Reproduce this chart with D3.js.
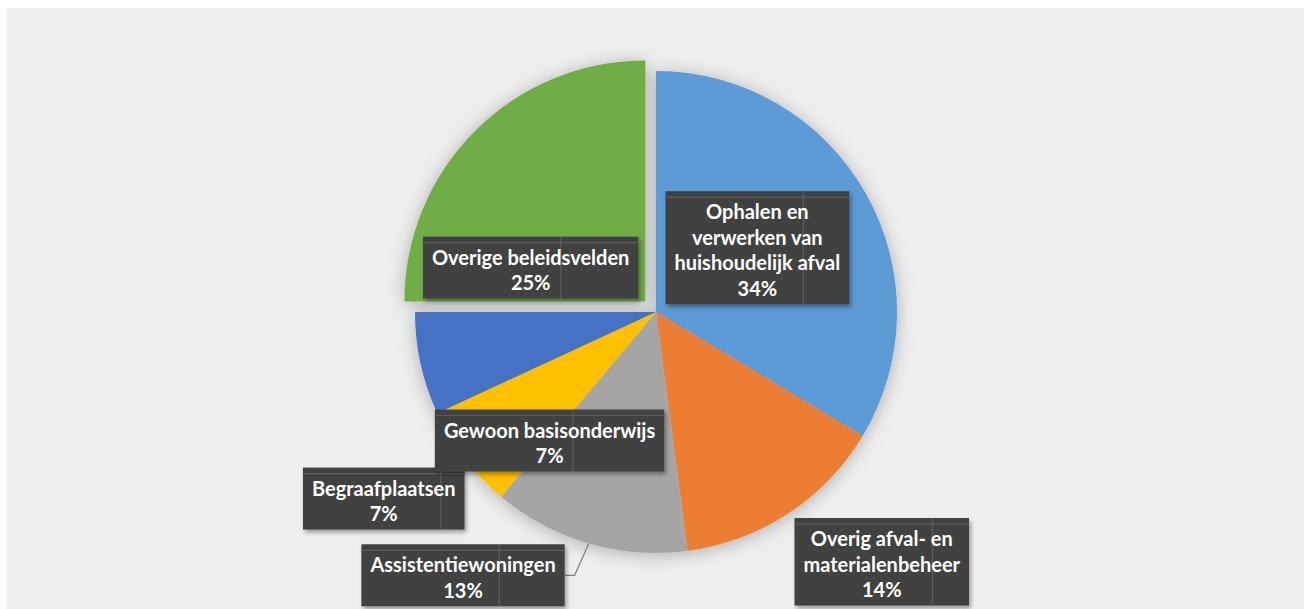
<!DOCTYPE html>
<html lang="nl">
<head>
<meta charset="UTF-8">
<title>Verdeling</title>
<script src="https://d3js.org/d3.v7.min.js"></script>
<style>
  body { margin: 0; background: #fff; }
  svg { display: block; }
  text { font-family: Lato, "Open Sans", sans-serif; font-weight: bold; }
</style>
</head>
<body>
<script>
    // data
    var categories = [
        "Ophalen en verwerken van huishoudelijk afval",
        "Overig afval- en materialenbeheer",
        "Assistentiewoningen",
        "Begraafplaatsen",
        "Gewoon basisonderwijs",
        "Overige beleidsvelden"
    ];
    var values = [33.6, 14.3, 13.2, 7.0, 6.9, 25.0];
    var labelLines = [
        ["Ophalen en", "verwerken van", "huishoudelijk afval"],
        ["Overig afval- en", "materialenbeheer"],
        ["Assistentiewoningen"],
        ["Begraafplaatsen"],
        ["Gewoon basisonderwijs"],
        ["Overige beleidsvelden"]
    ];
    var colors = ["#5b9bd5", "#ed7d31", "#a5a5a5", "#ffc000", "#4472c4", "#70ad47"];
    var exploded = [0, 0, 0, 0, 0, 15];
    // label nudges from the label centroid
    var labelNudge = [[-14, 1], [153, 139], [-156, 136], [-167, 106], [23, 100], [-21, 60]];
    var leader = [false, false, true, false, false, false];

    var W = 1304, H = 609;
    var cx = 656, cy = 312, R = 241;

    var svg = d3.select("body").append("svg")
        .attr("width", W)
        .attr("height", H);

    var defs = svg.append("defs");
    var f1 = defs.append("filter").attr("id", "pieShadow")
        .attr("x", "-20%").attr("y", "-20%").attr("width", "140%").attr("height", "140%");
    f1.append("feDropShadow").attr("dx", 0).attr("dy", 2).attr("stdDeviation", 9)
        .attr("flood-color", "#000").attr("flood-opacity", 0.28);
    var f2 = defs.append("filter").attr("id", "boxShadow")
        .attr("x", "-10%").attr("y", "-10%").attr("width", "130%").attr("height", "140%");
    f2.append("feDropShadow").attr("dx", 2).attr("dy", 3).attr("stdDeviation", 2)
        .attr("flood-color", "#000").attr("flood-opacity", 0.35);

    var pat = defs.append("pattern").attr("id", "dots")
        .attr("patternUnits", "userSpaceOnUse").attr("width", 8).attr("height", 8);
    pat.append("rect").attr("width", 8).attr("height", 8).attr("fill", "#404040");
    pat.append("circle").attr("cx", 2).attr("cy", 2).attr("r", 0.9).attr("fill", "#4c4c4c");
    pat.append("circle").attr("cx", 6).attr("cy", 6).attr("r", 0.9).attr("fill", "#4c4c4c");

    // background
    svg.append("rect")
        .attr("x", 7).attr("y", 8)
        .attr("width", W - 7).attr("height", H - 8)
        .attr("fill", "#efefef");

    var pie = d3.pie().sort(null).value(function(d) { return d; });
    var arcs = pie(values);
    var arc = d3.arc().innerRadius(0).outerRadius(R);
    var labelArc = d3.arc().innerRadius(R * 0.55).outerRadius(R * 0.55);

    function shift(d, i) {
        var a = (d.startAngle + d.endAngle) / 2;
        return [exploded[i] * Math.sin(a), -exploded[i] * Math.cos(a)];
    }

    var g = svg.append("g")
        .attr("transform", "translate(" + cx + "," + cy + ")");

    g.append("g")
        .attr("filter", "url(#pieShadow)")
        .selectAll("path")
        .data(arcs)
        .enter()
        .append("path")
          .attr("d", arc)
          .attr("fill", function(d, i) { return colors[i]; })
          .attr("transform", function(d, i) {
              var s = shift(d, i);
              return "translate(" + s[0] + "," + s[1] + ")";
          });

    var lineH = 25.5;
    var labels = g.selectAll(".lbl")
        .data(arcs)
        .enter()
        .append("g")
          .attr("class", "lbl");

    labels.each(function(d, i) {
        var el = d3.select(this);
        var lines = labelLines[i].concat([Math.round(values[i]) + "%"]);
        var c = labelArc.centroid(d);
        var s = shift(d, i);
        var bx = c[0] + s[0] + labelNudge[i][0];
        var by = c[1] + s[1] + labelNudge[i][1];

        var box = el.append("rect").attr("fill", "url(#dots)")
            .attr("filter", "url(#boxShadow)");
        var seamH = el.append("line").attr("stroke", "#5c5c5c").attr("stroke-width", 1.2);
        var seamV = el.append("line").attr("stroke", "#5c5c5c").attr("stroke-width", 1.2);

        var h = lines.length * lineH + 11;
        var top = by - h / 2;
        var txt = el.append("text")
            .attr("fill", "#fff")
            .attr("text-anchor", "middle")
            .style("font-size", "20px");
        lines.forEach(function(t, k) {
            txt.append("tspan")
                .attr("x", bx)
                .attr("y", top + 28 + k * lineH)
                .text(t);
        });
        var w = 0;
        txt.selectAll("tspan").each(function() {
            w = Math.max(w, this.getComputedTextLength());
        });
        w = w + 18;
        var left = bx - w / 2;
        box.attr("x", left).attr("y", top).attr("width", w).attr("height", h);
        seamH.attr("x1", left).attr("x2", left + w).attr("y1", top + 6).attr("y2", top + 6);
        seamV.attr("x1", left + 138).attr("x2", left + 138).attr("y1", top).attr("y2", top + h);

        if (leader[i]) {
            var a = (d.startAngle + d.endAngle) / 2;
            var ex = R * Math.sin(a), ey = -R * Math.cos(a);
            el.insert("polyline", ":first-child")
                .attr("points", [[left + w, by], [left + w + 10, by], [ex, ey]].join(" "))
                .attr("fill", "none")
                .attr("stroke", "#7f7f7f")
                .attr("stroke-width", 1.2);
        }
    });
</script>
</body>
</html>
